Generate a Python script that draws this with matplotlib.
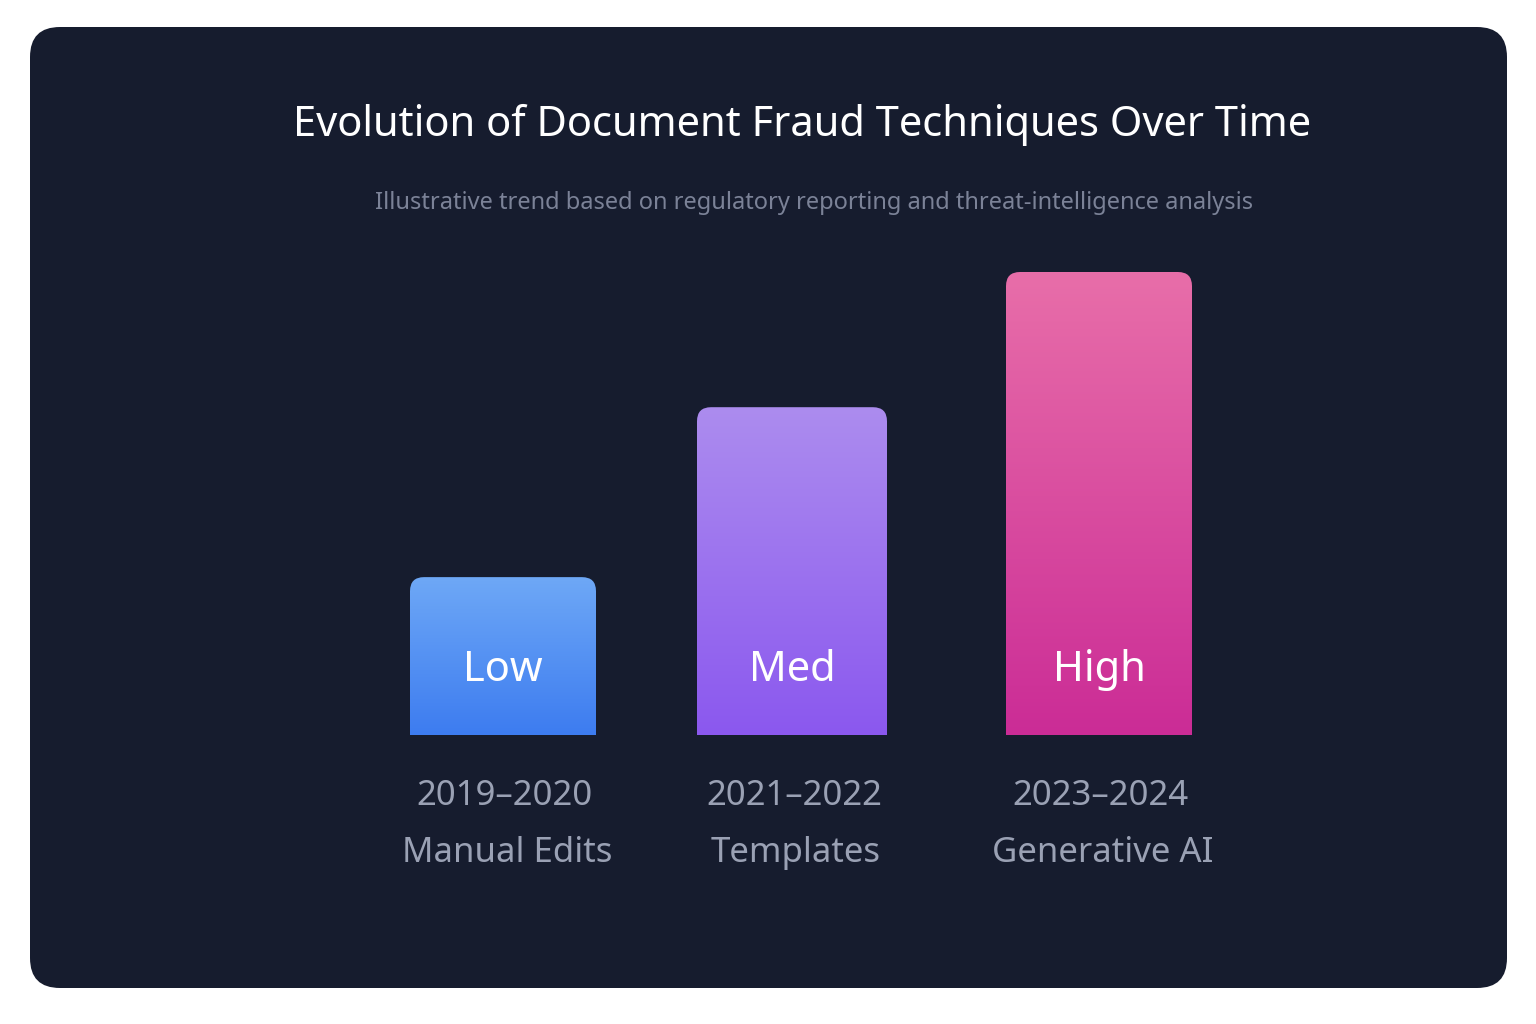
import numpy as np
import matplotlib.pyplot as plt
from matplotlib.patches import FancyBboxPatch, PathPatch
from matplotlib.path import Path

plt.rcParams['font.family'] = ['Noto Sans', 'DejaVu Sans']

# data
periods = ["2019\u20132020", "2021\u20132022", "2023\u20132024"]
techniques = ["Manual Edits", "Templates", "Generative AI"]
levels = ["Low", "Med", "High"]
values = [34.1, 70.8, 100]
top_colors = ["#6ea8f6", "#ac8cee", "#e86ea9"]
bottom_colors = ["#3d7cf0", "#8b58ef", "#cb2c96"]

W, H = 1536, 1024
fig = plt.figure(figsize=(W / 100, H / 100), dpi=100)
fig.patch.set_facecolor("white")

# dark card
bg = fig.add_axes([0, 0, 1, 1])
bg.set_xlim(0, W)
bg.set_ylim(H, 0)
bg.axis("off")
bg.add_patch(FancyBboxPatch((30, 27), 1477, 961, boxstyle="round,pad=0,rounding_size=30",
                            fc="#161c2e", ec="none"))
bg.text(802, 125, "Evolution of Document Fraud Techniques Over Time", color="white",
        fontsize=30, fontweight="bold", ha="center", va="center")
bg.text(814, 203, "Illustrative trend based on regulatory reporting and threat-intelligence analysis",
        color="#7b8297", fontsize=17, ha="center", va="center")

# bars
base_px, top_px = 735, 272
ax = fig.add_axes([0, 1 - base_px / H, 1, (base_px - top_px) / H])
ax.set_xlim(0, W)
ax.set_ylim(0, 100)
ax.axis("off")

centers = [503, 792, 1099]
widths = [186, 190, 186]
ry = 14 * 100 / (base_px - top_px)
rx = 14


def rounded_top(x0, x1, h):
    verts = [(x0, 0), (x1, 0), (x1, h - ry), (x1, h), (x1 - rx, h),
             (x0 + rx, h), (x0, h), (x0, h - ry), (x0, 0)]
    codes = [Path.MOVETO, Path.LINETO, Path.LINETO, Path.CURVE3, Path.CURVE3,
             Path.LINETO, Path.CURVE3, Path.CURVE3, Path.CLOSEPOLY]
    return Path(verts, codes)


for c, w, v, tc, bc, lv in zip(centers, widths, values, top_colors, bottom_colors, levels):
    x0, x1 = c - w / 2, c + w / 2
    t = np.array(plt.matplotlib.colors.to_rgb(tc))
    b = np.array(plt.matplotlib.colors.to_rgb(bc))
    f = np.linspace(0, 1, 256)[:, None]
    grad = (t * (1 - f) + b * f)[:, None, :]
    im = ax.imshow(grad, extent=[x0, x1, 0, v], aspect="auto", origin="upper", zorder=2)
    patch = PathPatch(rounded_top(x0, x1, v), fc="none", ec="none")
    ax.add_patch(patch)
    im.set_clip_path(patch)
    ax.text(c, 14, lv, color="white", fontsize=30, fontweight="bold",
            ha="center", va="center", zorder=3)

for c, p, t in zip(centers, periods, techniques):
    bg.text(c + 2, 796, p, color="#9aa1b4", fontsize=25, ha="center", va="center")
    bg.text(c + 4, 853, t, color="#9aa1b4", fontsize=25, ha="center", va="center")

fig.savefig("out.png", dpi=100, facecolor="white")
